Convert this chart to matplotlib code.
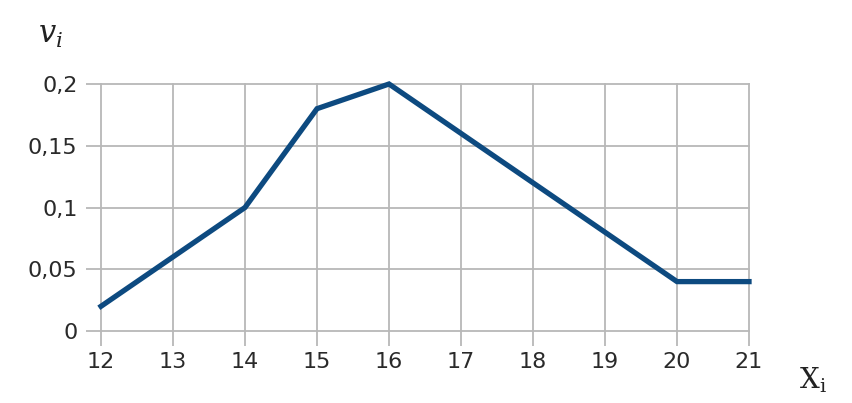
import numpy as np
import matplotlib.pyplot as plt

x_vals = [12, 13, 14, 15, 16, 17, 18, 19, 20, 21]
v_vals = [0.02, 0.06, 0.10, 0.18, 0.20, 0.16, 0.12, 0.08, 0.04, 0.04]
y_ticks = [0, 0.05, 0.1, 0.15, 0.2]
y_labels = ['0', '0,05', '0,1', '0,15', '0,2']

fig = plt.figure(figsize=(8.53, 4.03), dpi=100)
ax = fig.add_axes([101/853, 1-331/403, 648/853, 247/403])

ax.plot(x_vals, v_vals, color='#0d4a80', lw=3.8, solid_joinstyle='miter',
        zorder=3, clip_on=False)

ax.set_xlim(12, 21)
ax.set_ylim(0, 0.2)
ax.set_xticks(x_vals)
ax.set_yticks(y_ticks)
ax.set_yticklabels(y_labels)
ax.grid(True, color='#b8b8b8', lw=1.3)
for gl in ax.get_xgridlines() + ax.get_ygridlines():
    gl.set_clip_on(False)
for s in ax.spines.values():
    s.set_visible(False)
ax.tick_params(axis='both', colors='#b8b8b8', width=1.3, length=11,
               labelcolor='#2a2a2a', labelsize=16)
ax.tick_params(axis='x', pad=4)
ax.tick_params(axis='y', pad=6)

fig.text(50/853, 1-36/403, r'$v_i$', fontsize=22,
         ha='center', va='center', color='#222222',
         math_fontfamily='dejavuserif')
fig.text(813/853, 1-380/403, r'$\mathrm{X}_{\mathrm{i}}$', fontsize=20,
         ha='center', va='center', color='#222222',
         math_fontfamily='dejavuserif')

fig.savefig('out.png', dpi=100)
